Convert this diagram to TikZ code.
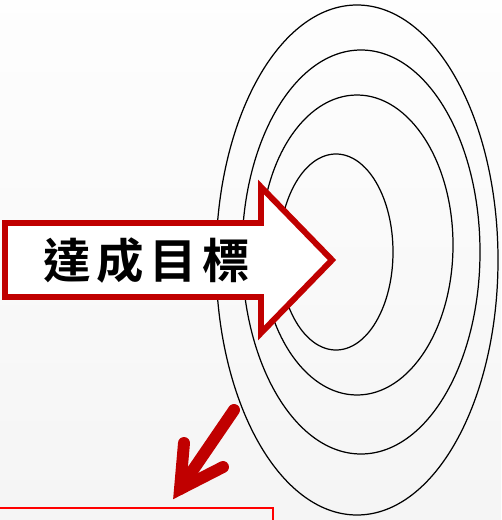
\documentclass[tikz,border=0pt]{standalone}
\usepackage{fontspec}
\newfontfamily\cjk[BoldFont={Noto Sans CJK TC Bold},LetterSpace=12]{Noto Sans CJK TC}
\usetikzlibrary{positioning}
\definecolor{darkred}{HTML}{C00000}

\begin{document}
\begin{tikzpicture}[
    x=0.02cm, y=-0.02cm,
    ring/.style={draw=black, line width=0.7pt},
    bigarrow/.style={draw=darkred, fill=white, line width=3.4pt, line join=miter},
    pointer/.style={draw=darkred, line width=6.8pt, line cap=round, line join=miter},
    label/.style={font=\cjk\bfseries\fontsize{27}{27}\selectfont, inner sep=0pt}
]
\useasboundingbox (0,0) rectangle (501,520);
\shade[top color=gray!1, bottom color=gray!8] (0,0) rectangle (501,520);
% target rings
\draw[ring] (357,260) ellipse [x radius=141, y radius=255];
\draw[ring] (361,252) ellipse [x radius=119, y radius=202];
\draw[ring] (357,245) ellipse [x radius=96, y radius=150];
\draw[ring] (336,252) ellipse [x radius=57, y radius=98];
% big arrow
\draw[bigarrow] (5,223) -- (261,223) -- (261,187) -- (332,260) -- (261,333) -- (261,297) -- (5,297) -- cycle;
\node[label] (goal) at (147,261) {達成目標};
% small arrow
\coordinate (start) at (234,410);
\coordinate (tip) at (180,489);
\coordinate (wingl) at (184,443);
\coordinate (wingr) at (223,467);
\draw[pointer] (start) -- (tip);
\draw[pointer] (wingl) -- (tip) -- (wingr);
% box
\draw[red, line width=1.2pt] (-5,508) rectangle (273,540);
\end{tikzpicture}
\end{document}
